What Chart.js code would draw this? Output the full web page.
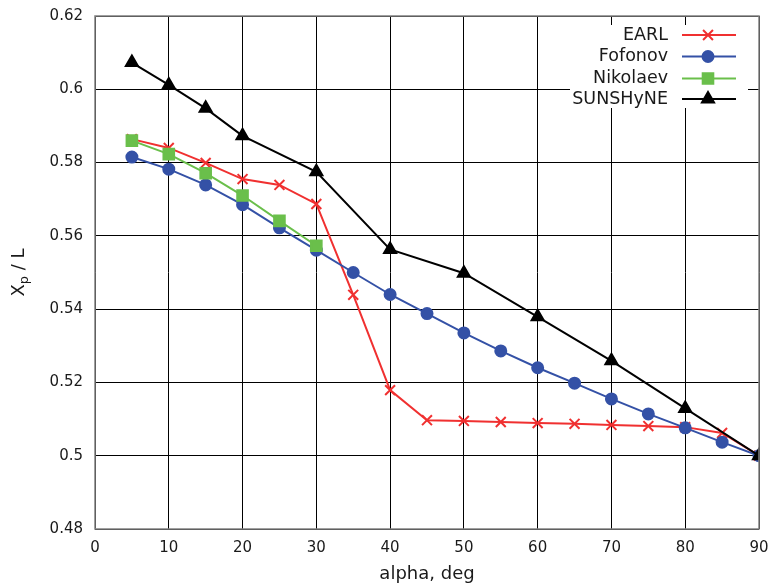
<!DOCTYPE html>
<html>
<head>
<meta charset="utf-8">
<script src="https://cdn.jsdelivr.net/npm/chart.js@4.4.1/dist/chart.umd.min.js"></script>
<style>
html,body{margin:0;padding:0;background:#fff;}
#wrap{width:771px;height:585px;}
</style>
</head>
<body>
<div id="wrap"><canvas id="c" width="771" height="585"></canvas></div>
<script>
const xTicks = [0,10,20,30,40,50,60,70,80,90];
const yTicks = [0.48,0.50,0.52,0.54,0.56,0.58,0.60,0.62];

const earlAlpha = [5,10,15,20,25,30,35,40,45,50,55,60,65,70,75,80,85,90];
const earlXp    = [0.5864,0.5840,0.5799,0.5755,0.5739,0.5687,0.5439,0.5179,0.5097,0.5095,0.5092,0.5089,0.5087,0.5084,0.5081,0.5078,0.5062,0.5000];

const fofonovAlpha = [5,10,15,20,25,30,35,40,45,50,55,60,65,70,75,80,85,90];
const fofonovXp    = [0.5815,0.5782,0.5739,0.5685,0.5622,0.5561,0.5500,0.5440,0.5388,0.5335,0.5286,0.5240,0.5198,0.5155,0.5114,0.5076,0.5037,0.5000];

const nikolaevAlpha = [5,10,15,20,25,30];
const nikolaevXp    = [0.5860,0.5823,0.5771,0.5710,0.5641,0.5573];

const sunAlpha = [5,10,15,20,30,40,50,60,70,80,90];
const sunXp    = [0.6073,0.6012,0.5948,0.5873,0.5775,0.5563,0.5498,0.5379,0.5259,0.5129,0.5000];

const seriesNames = ['EARL','Fofonov','Nikolaev','SUNSHyNE'];
const seriesColors = ['#f03030','#3451a6','#6abf4b','#000000'];
const seriesMarkers = ['crossRot','circle','rect','triangle'];
const markerRadius = [7,5.5,7.5,7];

function pts(xs, ys){ return xs.map((x,i)=>({x:x,y:ys[i]})); }
const seriesData = [pts(earlAlpha,earlXp), pts(fofonovAlpha,fofonovXp), pts(nikolaevAlpha,nikolaevXp), pts(sunAlpha,sunXp)];

const FONT = "'DejaVu Sans', sans-serif";

const datasets = seriesNames.map((n,i)=>({
  label:n,
  data:seriesData[i],
  showLine:true,
  borderColor:seriesColors[i],
  backgroundColor:seriesColors[i],
  borderWidth:2,
  pointStyle:seriesMarkers[i],
  pointRadius:markerRadius[i],
  pointBorderWidth:2,
  pointHoverRadius:markerRadius[i],
  pointBorderColor:seriesColors[i],
  pointBackgroundColor:seriesColors[i],
  order:4-i,
  tension:0
}));

const framePlugin = {
  id:'frame',
  afterDraw(chart){
    const ctx = chart.ctx, a = chart.chartArea;
    ctx.save();
    // frame
    ctx.strokeStyle = '#808080';
    ctx.lineWidth = 1.5;
    ctx.strokeRect(a.left, a.top, a.right-a.left, a.bottom-a.top);
    // legend
    const bx = a.right-189, by = a.top+9, bw = 178, bh = 83;
    ctx.fillStyle = '#fff';
    ctx.fillRect(bx, by, bw, bh);
    ctx.font = '17.5px ' + FONT;
    ctx.textAlign = 'right';
    ctx.textBaseline = 'middle';
    const rowY = [a.top+19, a.top+40.5, a.top+62.5, a.top+83];
    const textRight = a.right-91, l0 = a.right-77, l1 = a.right-23, mx = a.right-51;
    seriesNames.forEach((n,i)=>{
      const y = rowY[i];
      ctx.fillStyle = '#1a1a1a';
      ctx.fillText(n, textRight, y);
      ctx.strokeStyle = seriesColors[i];
      ctx.fillStyle = seriesColors[i];
      ctx.lineWidth = 2;
      ctx.beginPath(); ctx.moveTo(l0,y); ctx.lineTo(l1,y); ctx.stroke();
      Chart.helpers.drawPoint(ctx, {pointStyle:seriesMarkers[i], radius:markerRadius[i], borderWidth:2}, mx, y);
    });
    // y title with subscript
    ctx.translate(18, (a.top+a.bottom)/2);
    ctx.rotate(-Math.PI/2);
    ctx.fillStyle = '#1a1a1a';
    ctx.textAlign = 'left';
    ctx.textBaseline = 'alphabetic';
    const f1 = '18px ' + FONT, f2 = '13px ' + FONT;
    ctx.font = f1; const wX = ctx.measureText('X').width;
    ctx.font = f2; const wp = ctx.measureText('p').width;
    ctx.font = f1; const wr = ctx.measureText(' / L').width;
    const total = wX + wp + wr;
    let x0 = -total/2;
    const base = 6;
    ctx.font = f1; ctx.fillText('X', x0, base); x0 += wX;
    ctx.font = f2; ctx.fillText('p', x0, base+4); x0 += wp;
    ctx.font = f1; ctx.fillText(' / L', x0, base);
    ctx.restore();
  }
};

new Chart(document.getElementById('c'), {
  type:'scatter',
  data:{datasets:datasets},
  options:{
    responsive:false,
    animation:false,
    devicePixelRatio:1,
    layout:{padding:{top:16,right:12,left:0,bottom:0}},
    plugins:{legend:{display:false}, tooltip:{enabled:false}, title:{display:false}},
    scales:{
      x:{
        type:'linear', min:0, max:90,
        afterBuildTicks(s){ s.ticks = xTicks.map(v=>({value:v})); },
        afterFit(s){ s.height = 56; s.paddingLeft = 0; s.paddingRight = 0; },
        grid:{color:'#000', lineWidth:1, drawTicks:false},
        border:{display:false},
        ticks:{font:{family:FONT,size:15}, color:'#1a1a1a', padding:10, maxRotation:0, callback:v=>String(v)},
        title:{display:true, text:'alpha, deg', font:{family:FONT,size:18}, color:'#1a1a1a', padding:{top:0,bottom:0}}
      },
      y:{
        type:'linear', min:0.48, max:0.62,
        afterBuildTicks(s){ s.ticks = yTicks.map(v=>({value:v})); },
        afterFit(s){ s.width = 95; s.paddingTop = 0; s.paddingBottom = 0; },
        grid:{color:'#000', lineWidth:1, drawTicks:false},
        border:{display:false},
        ticks:{font:{family:FONT,size:15}, color:'#1a1a1a', padding:12, callback:v=>String(Number(v.toFixed(2)))},
        title:{display:false}
      }
    }
  },
  plugins:[framePlugin]
});
</script>
</body>
</html>
